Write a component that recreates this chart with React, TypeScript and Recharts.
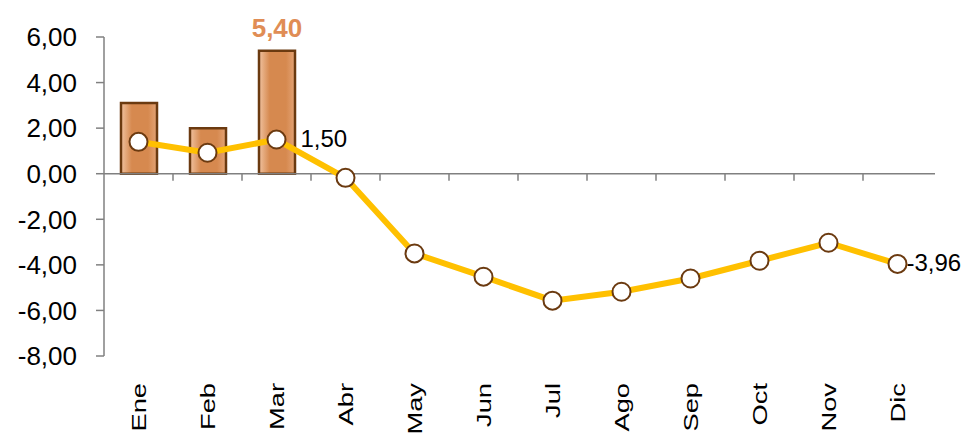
import {
  Bar,
  ComposedChart,
  LabelList,
  Line,
  ReferenceLine,
  XAxis,
  YAxis,
} from "recharts";

const months = ["Ene", "Feb", "Mar", "Abr", "May", "Jun", "Jul", "Ago", "Sep", "Oct", "Nov", "Dic"];
const barValues: (number | null)[] = [3.1, 2.0, 5.4, null, null, null, null, null, null, null, null, null];
const lineValues = [1.4, 0.92, 1.5, -0.18, -3.5, -4.52, -5.57, -5.18, -4.6, -3.82, -3.03, -3.96];
const yTicks = [-8, -6, -4, -2, 0, 2, 4, 6];
const barLabelIndex = [2];
const lineLabelIndex = [2, 11];

const data = months.map((m, i) => ({ mes: m, barra: barValues[i], linea: lineValues[i] }));

const fmt = (v: number) => v.toFixed(2).replace(".", ",");
const FONT = "'Liberation Sans', Arial, sans-serif";
const AXIS = "#808080";

function MonthTick(props: any) {
  const { x, y, payload } = props;
  return (
    <text
      transform={`translate(${x + 7},${y + 19}) rotate(-90) scale(1.3,1)`}
      textAnchor="end"
      fontFamily={FONT}
      fontSize={21}
      fill="#000"
    >
      {payload.value}
    </text>
  );
}

function ZeroLine(props: any) {
  const { x1, x2, y1 } = props;
  const n = months.length;
  const step = (x2 - x1) / n;
  return (
    <g>
      <line x1={x1} x2={x2 + 3} y1={y1} y2={y1} stroke={AXIS} strokeWidth={1.5} />
      {months.slice(1).map((_, i) => (
        <line
          key={i}
          x1={x1 + step * (i + 1)}
          x2={x1 + step * (i + 1)}
          y1={y1}
          y2={y1 + 7}
          stroke={AXIS}
          strokeWidth={1.5}
        />
      ))}
    </g>
  );
}

function BarLabel(props: any) {
  const { x, y, width, value, index } = props;
  if (!barLabelIndex.includes(index) || value == null) return null;
  return (
    <text
      x={x + width / 2}
      y={y - 21}
      textAnchor="middle"
      dominantBaseline="middle"
      fontFamily={FONT}
      fontWeight="bold"
      fontSize={26}
      fill="#E08D55"
    >
      {fmt(value)}
    </text>
  );
}

function LineLabel(props: any) {
  const { x, y, value, index } = props;
  if (!lineLabelIndex.includes(index)) return null;
  const dx = index === 2 ? 24 : 9;
  return (
    <text
      x={x + dx}
      y={y + 1}
      textAnchor="start"
      dominantBaseline="middle"
      fontFamily={FONT}
      fontSize={24}
      fill="#000"
    >
      {fmt(value)}
    </text>
  );
}

export default function App() {
  return (
    <ComposedChart
      width={953}
      height={426}
      data={data}
      margin={{ top: 29, right: 29, left: 0, bottom: 0 }}
      barCategoryGap={0}
    >
      <defs>
        <linearGradient id="barGrad" x1="0" y1="0" x2="1" y2="0">
          <stop offset="0%" stopColor="#F0C2A0" />
          <stop offset="30%" stopColor="#D6894F" />
          <stop offset="75%" stopColor="#D6894F" />
          <stop offset="100%" stopColor="#E4A476" />
        </linearGradient>
      </defs>
      <XAxis
        dataKey="mes"
        height={78}
        axisLine={false}
        tickLine={false}
        interval={0}
        tick={<MonthTick />}
      />
      <YAxis
        width={96}
        domain={[-8, 6]}
        ticks={yTicks}
        interval={0}
        tickFormatter={fmt}
        axisLine={{ stroke: AXIS, strokeWidth: 1.5 }}
        tickLine={{ stroke: AXIS, strokeWidth: 1.5 }}
        tickSize={8}
        tickMargin={19}
        tick={{ fill: "#000", fontSize: 26, fontFamily: FONT }}
      />
      <ReferenceLine y={0} shape={<ZeroLine />} />
      <Bar
        dataKey="barra"
        barSize={36}
        fill="url(#barGrad)"
        stroke="#6B3A10"
        strokeWidth={2.5}
        isAnimationActive={false}
      >
        <LabelList dataKey="barra" content={<BarLabel />} />
      </Bar>
      <Line
        dataKey="linea"
        type="linear"
        stroke="#FFC000"
        strokeWidth={6}
        dot={{ r: 9, fill: "#fff", stroke: "#6B3A10", strokeWidth: 2 }}
        isAnimationActive={false}
      >
        <LabelList dataKey="linea" content={<LineLabel />} />
      </Line>
    </ComposedChart>
  );
}
